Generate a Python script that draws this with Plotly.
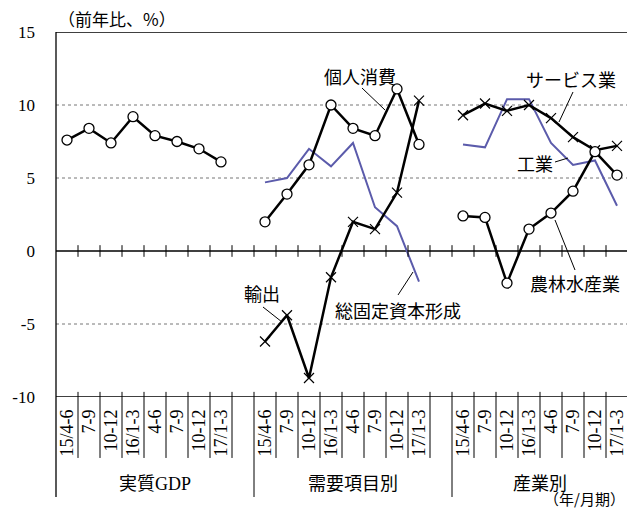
import plotly.graph_objects as go

# ---------------- data ----------------
slot_labels = ["15/4-6", "7-9", "10-12", "16/1-3", "4-6", "7-9", "10-12", "17/1-3", "",
               "15/4-6", "7-9", "10-12", "16/1-3", "4-6", "7-9", "10-12", "17/1-3", "",
               "15/4-6", "7-9", "10-12", "16/1-3", "4-6", "7-9", "10-12", "17/1-3"]
group_names = ["実質GDP", "需要項目別", "産業別"]

gdp = [7.6, 8.4, 7.4, 9.2, 7.9, 7.5, 7.0, 6.1]
kojin_shohi = [2.0, 3.9, 5.9, 10.0, 8.4, 7.9, 11.1, 7.3]
sokotei = [4.7, 5.0, 7.0, 5.8, 7.4, 3.0, 1.7, -2.1]
yushutsu = [-6.2, -4.4, -8.7, -1.8, 2.0, 1.5, 4.0, 10.3]
service = [9.3, 10.1, 9.6, 10.0, 9.1, 7.8, 6.9, 7.2]
kogyo = [7.3, 7.1, 10.4, 10.4, 7.4, 5.9, 6.2, 3.1]
norin = [2.4, 2.3, -2.2, 1.5, 2.6, 4.1, 6.8, 5.2]

y_ticks = [15, 10, 5, 0, -5, -10]

# ---------------- layout helpers ----------------
N = len(slot_labels)
group_start = [0, 9, 18]
group_bounds = [(0, 9), (9, 18), (18, 26)]


def xs(start, n):
    return [start + i + 0.5 for i in range(n)]


BLUE = "#5b5bab"
fig = go.Figure()

circle = dict(symbol="circle", size=10, color="white", line=dict(color="black", width=1.3))
cross = dict(symbol="x-thin", size=10, line=dict(color="black", width=1.2))
black_line = dict(color="black", width=2.5)
blue_line = dict(color=BLUE, width=2)

fig.add_trace(go.Scatter(x=xs(9, 8), y=sokotei, mode="lines", line=blue_line))
fig.add_trace(go.Scatter(x=xs(18, 8), y=kogyo, mode="lines", line=blue_line))
fig.add_trace(go.Scatter(x=xs(0, 8), y=gdp, mode="lines+markers", line=black_line, marker=circle))
fig.add_trace(go.Scatter(x=xs(9, 8), y=yushutsu, mode="lines+markers", line=black_line, marker=cross))
fig.add_trace(go.Scatter(x=xs(9, 8), y=kojin_shohi, mode="lines+markers", line=black_line, marker=circle))
fig.add_trace(go.Scatter(x=xs(18, 8), y=service, mode="lines+markers", line=black_line, marker=cross))
fig.add_trace(go.Scatter(x=xs(18, 8), y=norin, mode="lines+markers", line=black_line, marker=circle))

shapes = []
# dotted grid
for g in [10, 5, -5]:
    shapes.append(dict(type="line", xref="paper", x0=0, x1=1, y0=g, y1=g,
                       line=dict(color="#777", width=1, dash="dot"), layer="below"))
# solid lines
for g, w in [(15, 1.5), (0, 1.3), (-10, 1.3)]:
    shapes.append(dict(type="line", xref="paper", x0=0, x1=1, y0=g, y1=g,
                       line=dict(color="black", width=w), layer="below"))
# left axis
shapes.append(dict(type="line", xref="paper", yref="paper", x0=0, x1=0, y0=1, y1=-0.274,
                   line=dict(color="black", width=1.3)))
# ticks and separators
for k in range(1, N):
    shapes.append(dict(type="line", x0=k, x1=k, y0=-0.4, y1=0.4,
                       line=dict(color="black", width=1)))
    shapes.append(dict(type="line", x0=k, x1=k, y0=-10, y1=-9.65,
                       line=dict(color="black", width=1)))
    bottom = -0.274 if k in group_start else -0.167
    shapes.append(dict(type="line", x0=k, x1=k, yref="paper", y0=0, y1=bottom,
                       line=dict(color="black", width=1)))


def px2x(p):
    return (p - 56) / 22.0


def px2y(p):
    return (251 - p) / 14.6


leaders = [((362, 88), (385, 110)), ((573, 92), (559, 122)), ((555, 162), (568, 158)),
           ((555, 220), (575, 270)), ((263, 307), (282, 322)), ((398, 295), (413, 272))]
for (a, b) in leaders:
    shapes.append(dict(type="line", x0=px2x(a[0]), y0=px2y(a[1]), x1=px2x(b[0]), y1=px2y(b[1]),
                       line=dict(color="black", width=1)))

CJK = "Noto Sans CJK JP"
SERIF_MIX = "Liberation Serif, Noto Sans CJK JP"
annotations = []
labels = [("個人消費", 360, 76), ("サービス業", 571, 79), ("工業", 535, 163),
          ("農林水産業", 575, 283), ("輸出", 261.5, 293), ("総固定資本形成", 397.5, 310)]
for t, x, y in labels:
    annotations.append(dict(text=t, x=px2x(x), y=px2y(y), showarrow=False,
                            font=dict(family=CJK, size=18, color="black"),
                            xanchor="center", yanchor="middle"))

for name, (a, b) in zip(group_names, group_bounds):
    annotations.append(dict(text=name, x=(a + b) / 2, yref="paper", y=-0.238, showarrow=False,
                            font=dict(family=SERIF_MIX, size=18, color="black"),
                            xanchor="center", yanchor="middle"))

annotations.append(dict(text="（前年比、%）", xref="paper", x=0.0, yref="paper", y=1.038,
                        showarrow=False, xanchor="left", yanchor="middle",
                        font=dict(family=CJK, size=17, color="black")))
annotations.append(dict(text="（年/月期）", xref="paper", x=1.0, yref="paper", y=-0.3123,
                        showarrow=False, xanchor="right", yanchor="bottom",
                        font=dict(family=CJK, size=15, color="black")))

fig.update_layout(
    width=627, height=511,
    margin=dict(l=56, r=0, t=32, b=114),
    paper_bgcolor="white", plot_bgcolor="white",
    showlegend=False,
    shapes=shapes, annotations=annotations,
    xaxis=dict(range=[0, 571 / 22.0], showgrid=False, zeroline=False, showline=False,
               tickmode="array", tickvals=[i + 0.5 for i in range(N)], ticktext=slot_labels,
               tickangle=-90, ticks="", ticklabelstandoff=8,
               tickfont=dict(family="Liberation Serif", size=18, color="black")),
    yaxis=dict(range=[-10, 15], showgrid=False, zeroline=False, showline=False,
               tickmode="array", tickvals=y_ticks, ticktext=[str(v) for v in y_ticks],
               ticks="", ticklabelstandoff=20,
               tickfont=dict(family="Liberation Serif", size=17, color="black")),
)

fig.write_html("out.html", config={"displayModeBar": False},
               post_script="document.body.style.margin='0';document.body.style.overflow='hidden';")
